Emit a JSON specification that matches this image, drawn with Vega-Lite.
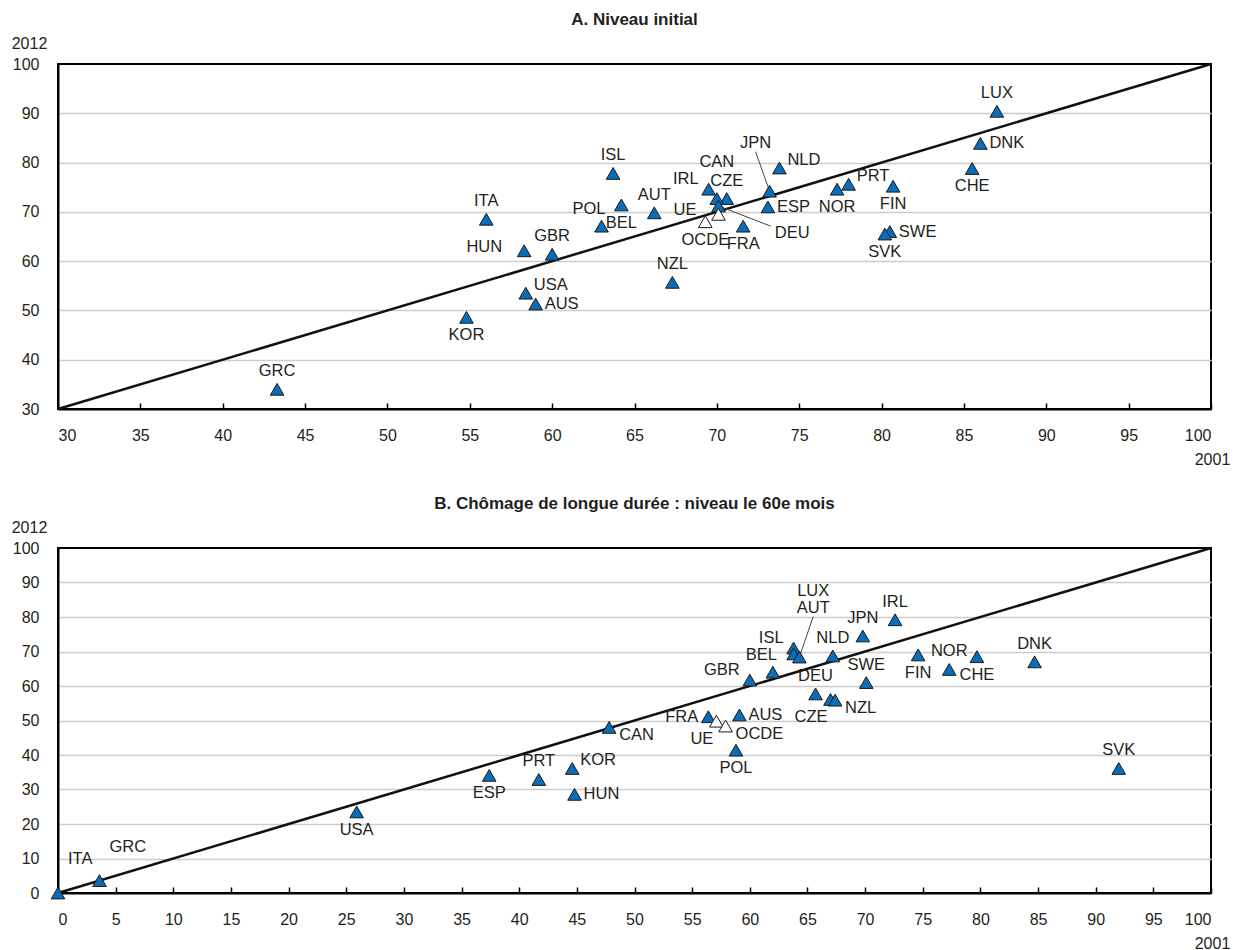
{
  "$schema": "https://vega.github.io/schema/vega-lite/v6.json",
  "padding": {"left": 10, "top": 10, "right": 2, "bottom": 0},
  "spacing": 26,
  "datasets": {
    "a": [
      {"code": "LUX", "x": 87.0, "y": 90.4, "pos": "t", "g": "pays"},
      {"code": "DNK", "x": 86.0, "y": 83.9, "pos": "r", "g": "pays"},
      {"code": "CHE", "x": 85.5, "y": 78.8, "pos": "b", "g": "pays"},
      {"code": "FIN", "x": 80.7, "y": 75.2, "pos": "b", "g": "pays"},
      {"code": "PRT", "x": 78.0, "y": 75.6, "pos": "rt", "g": "pays"},
      {"code": "NOR", "x": 77.3, "y": 74.6, "pos": "b", "g": "pays"},
      {"code": "SWE", "x": 80.5, "y": 66.0, "pos": "r", "g": "pays"},
      {"code": "SVK", "x": 80.2, "y": 65.5, "pos": "b", "g": "pays"},
      {"code": "NLD", "x": 73.8, "y": 78.9, "pos": "rt", "g": "pays"},
      {"code": "JPN", "x": 73.2, "y": 74.2, "pos": "c", "g": "pays"},
      {"code": "ESP", "x": 73.1, "y": 71.0, "pos": "r", "g": "pays"},
      {"code": "CZE", "x": 70.6, "y": 72.7, "pos": "t", "g": "pays"},
      {"code": "CAN", "x": 70.0, "y": 72.7, "pos": "tt", "g": "pays"},
      {"code": "IRL", "x": 69.5, "y": 74.6, "pos": "lt", "g": "pays"},
      {"code": "DEU", "x": 70.1, "y": 71.2, "pos": "c", "g": "pays"},
      {"code": "FRA", "x": 71.6, "y": 67.1, "pos": "b", "g": "pays"},
      {"code": "NZL", "x": 67.3, "y": 55.7, "pos": "t", "g": "pays"},
      {"code": "AUT", "x": 66.2, "y": 69.8, "pos": "t", "g": "pays"},
      {"code": "BEL", "x": 64.2, "y": 71.4, "pos": "b", "g": "pays"},
      {"code": "POL", "x": 63.0, "y": 67.1, "pos": "tl", "g": "pays"},
      {"code": "ISL", "x": 63.7, "y": 77.8, "pos": "t", "g": "pays"},
      {"code": "ITA", "x": 56.0, "y": 68.5, "pos": "t", "g": "pays"},
      {"code": "HUN", "x": 58.3, "y": 62.1, "pos": "ll", "g": "pays"},
      {"code": "GBR", "x": 60.0, "y": 61.4, "pos": "t", "g": "pays"},
      {"code": "USA", "x": 58.4, "y": 53.5, "pos": "rt", "g": "pays"},
      {"code": "AUS", "x": 59.0, "y": 51.3, "pos": "r", "g": "pays"},
      {"code": "KOR", "x": 54.8, "y": 48.6, "pos": "b", "g": "pays"},
      {"code": "GRC", "x": 43.3, "y": 34.0, "pos": "t", "g": "pays"},
      {"code": "UE", "x": 70.1, "y": 69.5, "pos": "ll", "g": "agregat"},
      {"code": "OCDE", "x": 69.3, "y": 68.0, "pos": "b", "g": "agregat"}
    ],
    "b": [
      {"code": "ITA", "x": 0.0, "y": 0.0, "pos": "tr2", "g": "pays"},
      {"code": "GRC", "x": 3.6, "y": 3.6, "pos": "tr2", "g": "pays"},
      {"code": "USA", "x": 25.9, "y": 23.5, "pos": "b", "g": "pays"},
      {"code": "ESP", "x": 37.4, "y": 34.1, "pos": "b", "g": "pays"},
      {"code": "PRT", "x": 41.7, "y": 32.9, "pos": "t", "g": "pays"},
      {"code": "KOR", "x": 44.6, "y": 36.1, "pos": "rt", "g": "pays"},
      {"code": "HUN", "x": 44.8, "y": 28.6, "pos": "r", "g": "pays"},
      {"code": "CAN", "x": 47.8, "y": 48.0, "pos": "rb", "g": "pays"},
      {"code": "FRA", "x": 56.4, "y": 51.1, "pos": "l", "g": "pays"},
      {"code": "AUS", "x": 59.1, "y": 51.6, "pos": "r", "g": "pays"},
      {"code": "POL", "x": 58.8, "y": 41.4, "pos": "b", "g": "pays"},
      {"code": "GBR", "x": 60.0, "y": 61.7, "pos": "lt", "g": "pays"},
      {"code": "BEL", "x": 62.0, "y": 64.0, "pos": "tl", "g": "pays"},
      {"code": "ISL", "x": 63.8, "y": 71.0, "pos": "lt", "g": "pays"},
      {"code": "LUX", "x": 63.8, "y": 69.3, "pos": "c", "g": "pays"},
      {"code": "AUT", "x": 64.3, "y": 68.4, "pos": "c", "g": "pays"},
      {"code": "NLD", "x": 67.2, "y": 68.7, "pos": "t", "g": "pays"},
      {"code": "JPN", "x": 69.8, "y": 74.5, "pos": "t", "g": "pays"},
      {"code": "IRL", "x": 72.6, "y": 79.2, "pos": "t", "g": "pays"},
      {"code": "SWE", "x": 70.1, "y": 61.0, "pos": "t", "g": "pays"},
      {"code": "DEU", "x": 65.7, "y": 57.7, "pos": "t", "g": "pays"},
      {"code": "CZE", "x": 67.0, "y": 56.1, "pos": "bl", "g": "pays"},
      {"code": "NZL", "x": 67.4, "y": 55.9, "pos": "rb", "g": "pays"},
      {"code": "FIN", "x": 74.6, "y": 69.0, "pos": "b", "g": "pays"},
      {"code": "NOR", "x": 77.3, "y": 64.8, "pos": "t", "g": "pays"},
      {"code": "CHE", "x": 79.7, "y": 68.5, "pos": "b", "g": "pays"},
      {"code": "DNK", "x": 84.7, "y": 67.0, "pos": "t", "g": "pays"},
      {"code": "SVK", "x": 92.0, "y": 36.1, "pos": "t", "g": "pays"},
      {"code": "UE", "x": 57.1, "y": 49.8, "pos": "bl", "g": "agregat"},
      {"code": "OCDE", "x": 57.9, "y": 48.4, "pos": "rb", "g": "agregat"}
    ],
    "ca": [
      {"code": "JPN", "x": 73.2, "y": 74.2, "ex": 72.35, "ey": 82.2, "pos": "ct"},
      {"code": "DEU", "x": 70.1, "y": 71.2, "ex": 73.27, "ey": 67.1, "pos": "cr"}
    ],
    "cb": [
      {"code": "AUT", "x": 64.3, "y": 68.4, "ex": 65.5, "ey": 80.1, "pos": "ct"},
      {"code": "LUX", "x": 63.8, "y": 69.3, "ex": 65.5, "ey": 80.1, "pos": "ctt"}
    ],
    "da": [{"x": 30, "y": 30}, {"x": 100, "y": 100}],
    "db": [{"x": 0, "y": 0}, {"x": 100, "y": 100}]
  },
  "vconcat": [
    {
      "width": 1153,
      "height": 345,
      "title": {"text": "A. Niveau initial"},
      "data": {"name": "a"},
      "encoding": {
        "x": {"field": "x", "type": "quantitative", "title": "2001",
          "scale": {"domain": [30, 100], "nice": false, "zero": false},
          "axis": {"values": [30, 35, 40, 45, 50, 55, 60, 65, 70, 75, 80, 85, 90, 95, 100], "title": "2001"}},
        "y": {"field": "y", "type": "quantitative", "title": "2012",
          "scale": {"domain": [30, 100], "nice": false, "zero": false},
          "axis": {"values": [30, 40, 50, 60, 70, 80, 90, 100], "title": "2012",
            "gridOpacity": {"condition": {"test": "datum.value <= 30 || datum.value >= 100", "value": 0}, "value": 1}}}
      },
      "layer": [
        {"data": {"name": "da"}, "mark": {"type": "line", "color": "#111111", "strokeWidth": 2.5}},
        {"data": {"name": "ca"}, "mark": {"type": "rule", "color": "#444444", "strokeWidth": 1},
          "encoding": {"x2": {"field": "ex"}, "y2": {"field": "ey"}}},
        {"transform": [{"filter": "datum.g == 'pays'"}],
          "mark": {"type": "point", "shape": "triangle-up", "filled": true, "fill": "#0b6db7", "stroke": "#1a1a1a", "strokeWidth": 1, "size": 185, "opacity": 1}},
        {"transform": [{"filter": "datum.g == 'agregat'"}],
          "mark": {"type": "point", "shape": "triangle-up", "filled": true, "fill": "#ffffff", "stroke": "#1a1a1a", "strokeWidth": 1, "size": 185, "opacity": 1}},
        {"transform": [{"filter": "datum.pos == 't'"}], "mark": {"type": "text", "align": "center", "baseline": "middle", "dx": 0, "dy": -18}, "encoding": {"text": {"field": "code"}}},
        {"transform": [{"filter": "datum.pos == 'tt'"}], "mark": {"type": "text", "align": "center", "baseline": "middle", "dx": 0, "dy": -37}, "encoding": {"text": {"field": "code"}}},
        {"transform": [{"filter": "datum.pos == 'b'"}], "mark": {"type": "text", "align": "center", "baseline": "middle", "dx": 0, "dy": 18}, "encoding": {"text": {"field": "code"}}},
        {"transform": [{"filter": "datum.pos == 'r'"}], "mark": {"type": "text", "align": "left", "baseline": "middle", "dx": 9, "dy": 0}, "encoding": {"text": {"field": "code"}}},
        {"transform": [{"filter": "datum.pos == 'rt'"}], "mark": {"type": "text", "align": "left", "baseline": "middle", "dx": 8, "dy": -8}, "encoding": {"text": {"field": "code"}}},
        {"transform": [{"filter": "datum.pos == 'rb'"}], "mark": {"type": "text", "align": "left", "baseline": "middle", "dx": 10, "dy": 8}, "encoding": {"text": {"field": "code"}}},
        {"transform": [{"filter": "datum.pos == 'l'"}], "mark": {"type": "text", "align": "right", "baseline": "middle", "dx": -10, "dy": 0}, "encoding": {"text": {"field": "code"}}},
        {"transform": [{"filter": "datum.pos == 'll'"}], "mark": {"type": "text", "align": "right", "baseline": "middle", "dx": -22, "dy": -4}, "encoding": {"text": {"field": "code"}}},
        {"transform": [{"filter": "datum.pos == 'lt'"}], "mark": {"type": "text", "align": "right", "baseline": "middle", "dx": -10, "dy": -10}, "encoding": {"text": {"field": "code"}}},
        {"transform": [{"filter": "datum.pos == 'tl'"}], "mark": {"type": "text", "align": "right", "baseline": "middle", "dx": 4, "dy": -17}, "encoding": {"text": {"field": "code"}}},
        {"transform": [{"filter": "datum.pos == 'bl'"}], "mark": {"type": "text", "align": "right", "baseline": "middle", "dx": -3, "dy": 18}, "encoding": {"text": {"field": "code"}}},
        {"transform": [{"filter": "datum.pos == 'tr2'"}], "mark": {"type": "text", "align": "left", "baseline": "middle", "dx": 10, "dy": -34}, "encoding": {"text": {"field": "code"}}},
        {"data": {"name": "ca"}, "transform": [{"filter": "datum.pos == 'ct'"}], "mark": {"type": "text", "align": "center", "baseline": "middle", "dx": 0, "dy": -9},
          "encoding": {"x": {"field": "ex", "type": "quantitative", "title": "2001"}, "y": {"field": "ey", "type": "quantitative", "title": "2012"}, "text": {"field": "code"}}},
        {"data": {"name": "ca"}, "transform": [{"filter": "datum.pos == 'cr'"}], "mark": {"type": "text", "align": "left", "baseline": "middle", "dx": 4, "dy": 7},
          "encoding": {"x": {"field": "ex", "type": "quantitative", "title": "2001"}, "y": {"field": "ey", "type": "quantitative", "title": "2012"}, "text": {"field": "code"}}}
      ]
    },
    {
      "width": 1153,
      "height": 345,
      "title": {"text": "B. Chômage de longue durée : niveau le 60e mois"},
      "data": {"name": "b"},
      "encoding": {
        "x": {"field": "x", "type": "quantitative", "title": "2001",
          "scale": {"domain": [0, 100], "nice": false, "zero": false},
          "axis": {"values": [0, 5, 10, 15, 20, 25, 30, 35, 40, 45, 50, 55, 60, 65, 70, 75, 80, 85, 90, 95, 100], "title": "2001"}},
        "y": {"field": "y", "type": "quantitative", "title": "2012",
          "scale": {"domain": [0, 100], "nice": false, "zero": false},
          "axis": {"values": [0, 10, 20, 30, 40, 50, 60, 70, 80, 90, 100], "title": "2012",
            "gridOpacity": {"condition": {"test": "datum.value <= 0 || datum.value >= 100", "value": 0}, "value": 1}}}
      },
      "layer": [
        {"data": {"name": "db"}, "mark": {"type": "line", "color": "#111111", "strokeWidth": 2.5}},
        {"data": {"name": "cb"}, "transform": [{"filter": "datum.code != 'LUX'"}], "mark": {"type": "rule", "color": "#444444", "strokeWidth": 1},
          "encoding": {"x2": {"field": "ex"}, "y2": {"field": "ey"}}},
        {"transform": [{"filter": "datum.g == 'pays'"}],
          "mark": {"type": "point", "shape": "triangle-up", "filled": true, "fill": "#0b6db7", "stroke": "#1a1a1a", "strokeWidth": 1, "size": 185, "opacity": 1}},
        {"transform": [{"filter": "datum.g == 'agregat'"}],
          "mark": {"type": "point", "shape": "triangle-up", "filled": true, "fill": "#ffffff", "stroke": "#1a1a1a", "strokeWidth": 1, "size": 185, "opacity": 1}},
        {"transform": [{"filter": "datum.pos == 't'"}], "mark": {"type": "text", "align": "center", "baseline": "middle", "dx": 0, "dy": -18}, "encoding": {"text": {"field": "code"}}},
        {"transform": [{"filter": "datum.pos == 'tt'"}], "mark": {"type": "text", "align": "center", "baseline": "middle", "dx": 0, "dy": -37}, "encoding": {"text": {"field": "code"}}},
        {"transform": [{"filter": "datum.pos == 'b'"}], "mark": {"type": "text", "align": "center", "baseline": "middle", "dx": 0, "dy": 18}, "encoding": {"text": {"field": "code"}}},
        {"transform": [{"filter": "datum.pos == 'r'"}], "mark": {"type": "text", "align": "left", "baseline": "middle", "dx": 9, "dy": 0}, "encoding": {"text": {"field": "code"}}},
        {"transform": [{"filter": "datum.pos == 'rt'"}], "mark": {"type": "text", "align": "left", "baseline": "middle", "dx": 8, "dy": -8}, "encoding": {"text": {"field": "code"}}},
        {"transform": [{"filter": "datum.pos == 'rb'"}], "mark": {"type": "text", "align": "left", "baseline": "middle", "dx": 10, "dy": 8}, "encoding": {"text": {"field": "code"}}},
        {"transform": [{"filter": "datum.pos == 'l'"}], "mark": {"type": "text", "align": "right", "baseline": "middle", "dx": -10, "dy": 0}, "encoding": {"text": {"field": "code"}}},
        {"transform": [{"filter": "datum.pos == 'll'"}], "mark": {"type": "text", "align": "right", "baseline": "middle", "dx": -22, "dy": -4}, "encoding": {"text": {"field": "code"}}},
        {"transform": [{"filter": "datum.pos == 'lt'"}], "mark": {"type": "text", "align": "right", "baseline": "middle", "dx": -10, "dy": -10}, "encoding": {"text": {"field": "code"}}},
        {"transform": [{"filter": "datum.pos == 'tl'"}], "mark": {"type": "text", "align": "right", "baseline": "middle", "dx": 4, "dy": -17}, "encoding": {"text": {"field": "code"}}},
        {"transform": [{"filter": "datum.pos == 'bl'"}], "mark": {"type": "text", "align": "right", "baseline": "middle", "dx": -3, "dy": 18}, "encoding": {"text": {"field": "code"}}},
        {"transform": [{"filter": "datum.pos == 'tr2'"}], "mark": {"type": "text", "align": "left", "baseline": "middle", "dx": 10, "dy": -34}, "encoding": {"text": {"field": "code"}}},
        {"data": {"name": "cb"}, "transform": [{"filter": "datum.pos == 'ct'"}], "mark": {"type": "text", "align": "center", "baseline": "middle", "dx": 0, "dy": -9},
          "encoding": {"x": {"field": "ex", "type": "quantitative", "title": "2001"}, "y": {"field": "ey", "type": "quantitative", "title": "2012"}, "text": {"field": "code"}}},
        {"data": {"name": "cb"}, "transform": [{"filter": "datum.pos == 'ctt'"}], "mark": {"type": "text", "align": "center", "baseline": "middle", "dx": 0, "dy": -26},
          "encoding": {"x": {"field": "ex", "type": "quantitative", "title": "2001"}, "y": {"field": "ey", "type": "quantitative", "title": "2012"}, "text": {"field": "code"}}}
      ]
    }
  ],
  "config": {
    "background": "#ffffff",
    "view": {"stroke": "#000000", "strokeWidth": 2},
    "font": "Liberation Sans",
    "text": {"font": "Liberation Sans", "fontSize": 16.5, "color": "#231f20"},
    "title": {"font": "Liberation Sans", "fontSize": 17, "fontWeight": "bold", "color": "#231f20", "anchor": "middle", "offset": 6},
    "axis": {
      "labelFont": "Liberation Sans", "labelFontSize": 16, "labelColor": "#231f20",
      "titleFont": "Liberation Sans", "titleFontSize": 16, "titleFontWeight": "normal", "titleColor": "#231f20",
      "domainColor": "#000000", "domainWidth": 2,
      "gridColor": "#cccccc", "gridWidth": 1.5
    },
    "axisX": {"grid": false, "ticks": true, "tickColor": "#000000", "tickWidth": 1.5, "tickSize": -6, "labelPadding": 24,
      "titleAngle": 0, "titleAlign": "center", "titleBaseline": "middle", "titleX": 1154, "titleY": 50},
    "axisY": {"grid": true, "ticks": false, "labelPadding": 19,
      "titleAngle": 0, "titleAlign": "center", "titleBaseline": "middle", "titleX": -29, "titleY": -21}
  }
}
